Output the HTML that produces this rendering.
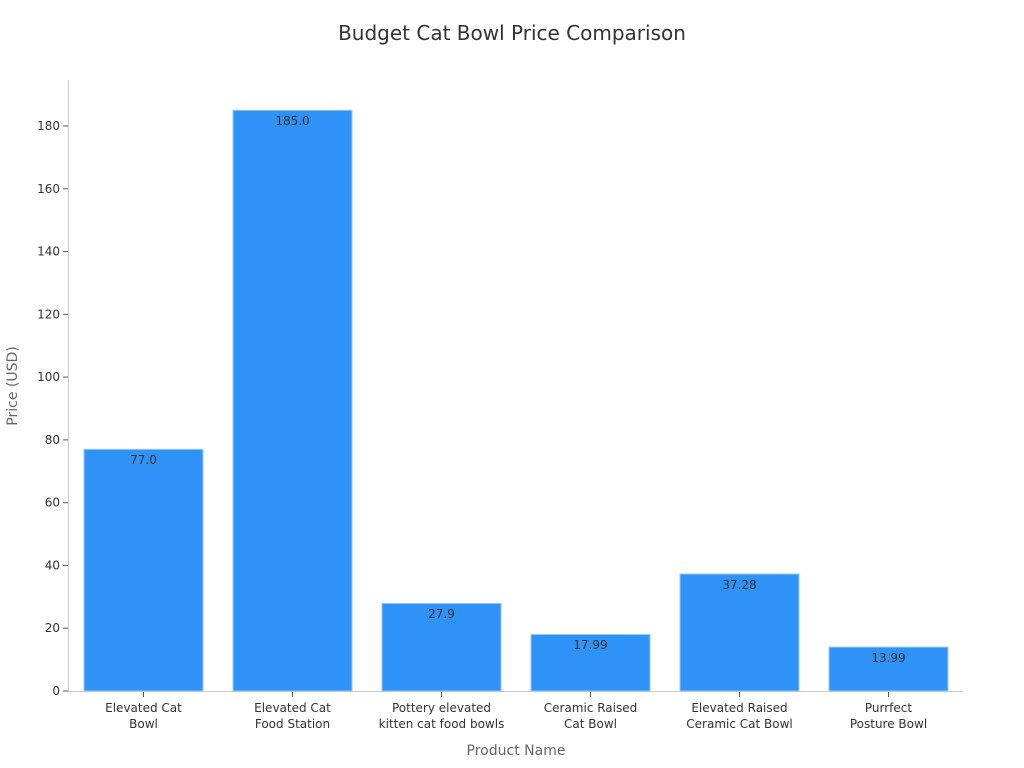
<!DOCTYPE html>
<html><head><meta charset="utf-8"><style>
body{margin:0;background:#fff;}
svg{display:block;font-family:"DejaVu Sans","Liberation Sans",sans-serif;}
</style></head><body>
<svg width="1024" height="768" viewBox="0 0 1024 768">
<text x="512" y="40" text-anchor="middle" font-size="20" fill="#333">Budget Cat Bowl Price Comparison</text>
<line x1="68.5" y1="80" x2="68.5" y2="692" stroke="#ccc"/>
<line x1="68" y1="691.5" x2="963" y2="691.5" stroke="#ccc"/>
<g font-size="12" fill="#333" text-anchor="end">
<g stroke="#555"><line x1="63" x2="68" y1="691" y2="691"/><line x1="63" x2="68" y1="628.2" y2="628.2"/><line x1="63" x2="68" y1="565.4" y2="565.4"/><line x1="63" x2="68" y1="502.7" y2="502.7"/><line x1="63" x2="68" y1="439.9" y2="439.9"/><line x1="63" x2="68" y1="377.1" y2="377.1"/><line x1="63" x2="68" y1="314.3" y2="314.3"/><line x1="63" x2="68" y1="251.6" y2="251.6"/><line x1="63" x2="68" y1="188.8" y2="188.8"/><line x1="63" x2="68" y1="126" y2="126"/></g>
<text x="60" y="695">0</text><text x="60" y="632.2">20</text><text x="60" y="569.4">40</text><text x="60" y="506.7">60</text><text x="60" y="443.9">80</text><text x="60" y="381.1">100</text><text x="60" y="318.3">120</text><text x="60" y="255.6">140</text><text x="60" y="192.8">160</text><text x="60" y="130">180</text>
</g>
<text transform="translate(17,386) rotate(-90)" text-anchor="middle" font-size="14" fill="#666">Price (USD)</text>
<text x="516" y="755" text-anchor="middle" font-size="14" fill="#666">Product Name</text>
<g fill="#2e92f6" stroke="#9cc8f5" stroke-width="1">
<rect x="84" y="449.3" width="119" height="241.7"/>
<rect x="233" y="110.3" width="119" height="580.7"/>
<rect x="382" y="603.4" width="119" height="87.6"/>
<rect x="531" y="634.5" width="119" height="56.5"/>
<rect x="680" y="574" width="119" height="117"/>
<rect x="829" y="647.1" width="119" height="43.9"/>
</g>
<g font-size="12" fill="#333" text-anchor="middle">
<text x="143.5" y="464">77.0</text><text x="292.5" y="125">185.0</text><text x="441.5" y="618">27.9</text><text x="590.5" y="649">17.99</text><text x="739.5" y="589">37.28</text><text x="888.5" y="662">13.99</text>
</g>
<g stroke="#555"><line x1="143.5" x2="143.5" y1="692" y2="697"/><line x1="292.5" x2="292.5" y1="692" y2="697"/><line x1="441.5" x2="441.5" y1="692" y2="697"/><line x1="590.5" x2="590.5" y1="692" y2="697"/><line x1="739.5" x2="739.5" y1="692" y2="697"/><line x1="888.5" x2="888.5" y1="692" y2="697"/></g>
<g font-size="12" fill="#333" text-anchor="middle">
<text x="143.5" y="712">Elevated Cat</text><text x="143.5" y="728">Bowl</text>
<text x="292.5" y="712">Elevated Cat</text><text x="292.5" y="728">Food Station</text>
<text x="441.5" y="712">Pottery elevated</text><text x="441.5" y="728">kitten cat food bowls</text>
<text x="590.5" y="712">Ceramic Raised</text><text x="590.5" y="728">Cat Bowl</text>
<text x="739.5" y="712">Elevated Raised</text><text x="739.5" y="728">Ceramic Cat Bowl</text>
<text x="888.5" y="712">Purrfect</text><text x="888.5" y="728">Posture Bowl</text>
</g>
</svg>
</body></html>
